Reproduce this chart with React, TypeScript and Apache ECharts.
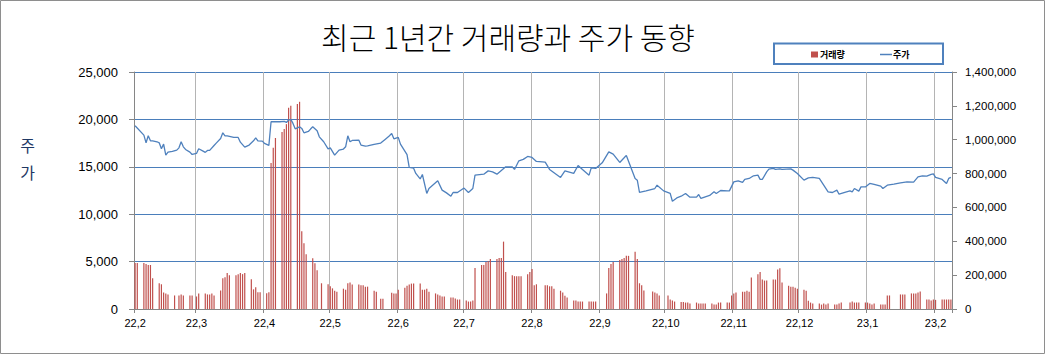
import React, { useEffect, useRef } from 'react';
import * as echarts from 'echarts';

// Calendar-day axis: 2022-02-03 .. 2023-02-10
const startYMD = [2022, 1, 3];
const endYMD = [2023, 1, 10];

const tickDates = [
  '2022-02-03', '2022-03-03', '2022-04-03', '2022-05-03', '2022-06-03', '2022-07-03', '2022-08-03',
  '2022-09-03', '2022-10-03', '2022-11-03', '2022-12-03', '2023-01-03', '2023-02-03',
];
const tickLabels = ['22,2', '22,3', '22,4', '22,5', '22,6', '22,7', '22,8', '22,9', '22,10', '22,11', '22,12', '23,1', '23,2'];

// Volume bars: day offset from 2022-02-03, value in thousands of shares
const volumeDays = [
  0, 1, 4, 5, 6, 7, 8, 11, 12, 13, 14, 15, 18, 20, 21, 22, 25, 26, 28, 29, 32, 33, 34, 35, 36, 39, 40, 41, 42, 43,
  46, 47, 48, 49, 50, 53, 54, 55, 56, 57, 60, 61, 62, 63, 64, 67, 68, 69, 70, 71, 74, 75, 76, 77, 78, 81, 82, 83, 85,
  88, 89, 90, 91, 92, 95, 96, 97, 98, 99, 102, 103, 104, 105, 106, 109, 110, 112, 113, 117, 118, 119, 120, 123, 124,
  125, 126, 127, 130, 131, 132, 133, 134, 137, 138, 139, 140, 141, 144, 145, 146, 147, 148, 151, 152, 153, 154, 155,
  158, 159, 160, 161, 162, 165, 166, 167, 168, 169, 172, 173, 174, 175, 176, 179, 180, 181, 182, 183, 187, 188, 189,
  190, 191, 194, 195, 196, 197, 200, 201, 202, 203, 204, 207, 208, 209, 210, 215, 216, 217, 218, 221, 222, 223, 224,
  225, 228, 229, 230, 231, 232, 236, 237, 238, 239, 243, 244, 245, 246, 249, 250, 251, 252, 253, 256, 257, 258, 259,
  260, 263, 264, 265, 266, 267, 270, 271, 272, 273, 274, 277, 278, 279, 280, 281, 284, 285, 286, 287, 288, 291, 292,
  293, 294, 295, 298, 299, 300, 301, 302, 305, 306, 307, 308, 309, 312, 313, 314, 315, 316, 319, 320, 321, 322, 326,
  327, 328, 329, 330, 333, 334, 335, 336, 337, 340, 341, 342, 343, 344, 349, 350, 351, 354, 355, 356, 357, 358, 361,
  362, 363, 364, 365, 368, 369, 370, 371, 372,
];
const volumeK = [
  272, 272, 272, 266, 260, 260, 182, 152, 146, 98, 92, 86, 80, 80, 86, 80, 80, 80, 74, 92, 92, 86, 86, 92, 80, 110, 182, 188, 212, 200,
  200, 206, 212, 206, 212, 176, 116, 128, 99, 99, 93, 99, 862, 952, 1010, 1045, 1063, 1092, 1189, 1201, 1211, 1224, 460, 389, 324, 300, 270, 229, 152,
  146, 134, 122, 108, 102, 120, 114, 152, 156, 144, 144, 140, 140, 132, 132, 108, 102, 60, 60, 96, 92, 92, 114, 126, 138,
  144, 150, 150, 150, 114, 114, 120, 102, 92, 86, 80, 74, 74, 68, 68, 62, 56, 56, 50, 44, 44, 50, 242,
  260, 260, 278, 284, 296, 296, 302, 302, 398, 218, 200, 194, 194, 194, 194, 206, 218, 236, 140, 146, 140, 140, 134,
  134, 120, 108, 98, 78, 68, 50, 50, 44, 44, 44, 44, 44, 44, 44, 92, 242, 266, 278, 290, 296, 302, 314,
  314, 338, 296, 152, 140, 110, 104, 98, 92, 80, 80, 56, 50, 44, 42, 42, 38, 38, 32, 38, 32, 32, 32,
  32, 32, 26, 26, 38, 38, 38, 38, 80, 92, 98, 102, 102, 108, 102, 186, 206, 218, 174, 168, 168, 174, 174,
  234, 240, 156, 138, 132, 132, 126, 120, 114, 108, 48, 38, 32, 32, 26, 32, 26, 32, 26, 26, 32, 38, 38,
  44, 38, 38, 38, 38, 38, 32, 26, 32, 26, 26, 26, 80, 80, 86, 86, 86, 92, 92, 92, 98, 104, 56,
  56, 50, 56, 54, 56, 56, 56, 56, 56,
];

// Price line: day offset from 2022-02-03, price
const priceDays = [
  0, 4, 5, 6, 7, 8, 10, 11, 12, 13, 14, 15, 17, 19, 20, 21, 22, 23, 25, 26, 28, 29, 31, 32, 33, 34, 36, 37, 39, 40,
  41, 42, 44, 45, 47, 48, 50, 52, 54, 55, 56, 58, 59, 61, 62, 64, 66, 68, 69, 70, 71, 72, 73, 75, 76, 77, 79, 80, 81,
  83, 84, 86, 88, 89, 91, 93, 95, 96, 97, 98, 99, 102, 103, 105, 106, 109, 112, 114, 116, 117, 118, 120, 121, 124,
  125, 127, 128, 130, 131, 133, 134, 138, 140, 142, 144, 145, 147, 149, 150, 152, 154, 155, 159, 161, 163, 165, 169,
  172, 173, 175, 177, 179, 181, 183, 187, 189, 194, 196, 200, 202, 204, 207, 208, 210, 213, 216, 218, 221, 223, 224,
  228, 229, 230, 233, 237, 238, 241, 244, 245, 247, 249, 251, 253, 256, 257, 258, 260, 262, 264, 265, 267, 270, 271,
  273, 275, 277, 278, 280, 282, 284, 285, 286, 288, 289, 291, 292, 294, 295, 299, 300, 302, 305, 307, 309, 312, 314,
  316, 318, 320, 321, 324, 326, 327, 328, 330, 331, 333, 335, 337, 340, 341, 343, 346, 349, 352, 355, 357, 359, 361,
  363, 364, 365, 368, 370, 371, 372,
];
const prices = [
  19330, 18340, 17530, 18270, 17740, 17740, 17640, 17530, 16900, 17390, 16230, 16550, 16620, 16760, 17000, 17640, 17110, 16830, 16550, 16300, 16410, 16900, 16650, 16520, 16730, 16730, 17250, 17500, 17990, 18590,
  18270, 18270, 18160, 18100, 18100, 17600, 17080, 17290, 17740, 18060, 17740, 17710, 17470, 17260, 19750, 19750, 19750, 19790, 19680, 19930, 20000, 19580, 19010, 19220, 19050, 18590, 18730, 18980, 19220,
  18800, 18160, 17640, 16900, 17000, 16230, 16760, 16870, 17110, 18270, 17640, 17780, 17820, 17290, 17180, 17210, 17360, 17500, 17890, 18270, 18520, 17950, 18100, 17390, 16280,
  14950, 14860, 14300, 13720, 14190, 12190, 12710, 13520, 12540, 12250, 11900, 12290, 12290, 12610, 12750, 12290, 12710, 14120, 14220, 14570, 14470, 14220, 15000,
  15000, 14720, 15630, 15780, 16090, 15990, 15570, 15490, 14720, 13880, 14570, 14300, 15140, 14720, 14120, 14890, 14830, 15420, 16580, 16340, 15460, 15950, 16200,
  13770, 13590, 12290, 12460, 12710, 13060, 12460, 12190, 11370, 11720, 11900, 12190, 11800, 11800, 12080, 11660, 11830, 11980, 12360, 12190, 12500, 12460, 12460,
  13410, 13520, 13350, 13670, 13770, 14050, 14120, 13670, 13670, 14470, 14750, 14830, 14720, 14780, 14720, 14780, 14650, 14300, 13590, 13830, 13880, 13770, 13060,
  12360, 12290, 12540, 12110, 12320, 12460, 12360, 12710, 12430, 12880, 12880, 13240, 13140, 12960, 12710, 13060, 13170, 13310, 13410, 13380, 13940, 14050, 14010,
  14190, 14260, 13880, 13670, 13240, 13770, 13880,
];

function buildDays(): string[] {
  const out: string[] = [];
  let t = Date.UTC(startYMD[0], startYMD[1], startYMD[2]);
  const end = Date.UTC(endYMD[0], endYMD[1], endYMD[2]);
  while (t <= end) {
    out.push(new Date(t).toISOString().slice(0, 10));
    t += 86400000;
  }
  return out;
}

export default function App() {
  const ref = useRef<HTMLDivElement>(null);
  useEffect(() => {
    if (!ref.current) return;
    const chart = echarts.init(ref.current, undefined, { renderer: 'svg' });
    const days = buildDays();
    const labelMap: Record<string, string> = {};
    tickDates.forEach((d, i) => (labelMap[d] = tickLabels[i]));
    const isTick = (_i: number, v: string) => labelMap[v] !== undefined;

    const volData: (number | null)[] = days.map(() => null);
    volumeDays.forEach((d, i) => (volData[d] = volumeK[i] * 1000));
    const priceData: (number | null)[] = days.map(() => null);
    priceDays.forEach((d, i) => (priceData[d] = prices[i]));

    const fmt = (v: number) => v.toLocaleString('en-US');

    chart.setOption({
      animation: false,
      backgroundColor: '#ffffff',
      textStyle: { fontFamily: 'Liberation Sans' },
      grid: { left: 134, right: 95, top: 72, bottom: 47 },
      xAxis: {
        type: 'category',
        data: days,
        boundaryGap: true,
        axisLine: { lineStyle: { color: '#868686', width: 1 } },
        axisTick: { show: true, interval: isTick, length: 4, lineStyle: { color: '#868686' } },
        axisLabel: {
          interval: isTick,
          formatter: (v: string) => labelMap[v] ?? '',
          color: '#000',
          fontSize: 11,
          margin: 8,
          fontFamily: 'Liberation Sans',
        },
        splitLine: { show: true, interval: isTick, lineStyle: { color: '#b4b4b4', width: 1 } },
      },
      yAxis: [
        {
          type: 'value',
          position: 'left',
          min: 0,
          max: 25000,
          interval: 5000,
          axisLine: { show: true, lineStyle: { color: '#868686' } },
          axisTick: { show: true, length: 5, lineStyle: { color: '#868686' } },
          axisLabel: { formatter: fmt, color: '#000', fontSize: 13, margin: 16, fontFamily: 'Liberation Sans' },
          splitLine: { show: true, lineStyle: { color: '#4a7ebb', width: 1 } },
        },
        {
          type: 'value',
          position: 'right',
          min: 0,
          max: 1400000,
          interval: 200000,
          axisLine: { show: true, lineStyle: { color: '#868686' } },
          axisTick: { show: true, length: 5, lineStyle: { color: '#868686' } },
          axisLabel: { formatter: fmt, color: '#000', fontSize: 11.5, margin: 13, fontFamily: 'Liberation Sans' },
          splitLine: { show: false },
        },
      ],
      series: [
        {
          name: '거래량',
          type: 'bar',
          yAxisIndex: 1,
          data: volData,
          barWidth: 1.2,
          itemStyle: { color: '#c0504d' },
          z: 2,
        },
        {
          name: '주가',
          type: 'line',
          yAxisIndex: 0,
          data: priceData,
          connectNulls: true,
          showSymbol: false,
          symbol: 'none',
          lineStyle: { color: '#4f81bd', width: 1.3 },
          z: 3,
        },
      ],
      graphic: [
        {
          type: 'rect',
          silent: true,
          shape: { x: 0.5, y: 0.5, width: 1044, height: 353 },
          style: { fill: 'none', stroke: '#8e8e8e', lineWidth: 1 },
        },
        {
          type: 'text',
          silent: true,
          style: {
            text: '최근 1년간 거래량과 주가 동향',
            x: 508,
            y: 36,
            textAlign: 'center',
            textVerticalAlign: 'middle',
            font: '300 30px "Noto Sans CJK KR"',
            fill: '#000',
          },
        },
        {
          type: 'text',
          silent: true,
          style: { text: '주', x: 27.5, y: 145, textAlign: 'center', textVerticalAlign: 'middle', font: '16px "Noto Sans CJK KR"', fill: '#1f3864' },
        },
        {
          type: 'text',
          silent: true,
          style: { text: '가', x: 27.5, y: 172, textAlign: 'center', textVerticalAlign: 'middle', font: '16px "Noto Sans CJK KR"', fill: '#1f3864' },
        },
        {
          type: 'rect',
          silent: true,
          shape: { x: 774, y: 43.5, width: 169, height: 20.5 },
          style: { fill: '#fff', stroke: '#4f81bd', lineWidth: 2 },
        },
        {
          type: 'rect',
          silent: true,
          shape: { x: 811, y: 51.5, width: 7, height: 6 },
          style: { fill: '#c0504d' },
        },
        {
          type: 'text',
          silent: true,
          style: { text: '거래량', x: 820, y: 54.5, textAlign: 'left', textVerticalAlign: 'middle', font: 'bold 9px "Noto Sans CJK KR"', fill: '#000' },
        },
        {
          type: 'line',
          silent: true,
          shape: { x1: 880, y1: 54.5, x2: 892, y2: 54.5 },
          style: { stroke: '#4f81bd', lineWidth: 1.5 },
        },
        {
          type: 'text',
          silent: true,
          style: { text: '주가', x: 893, y: 54.5, textAlign: 'left', textVerticalAlign: 'middle', font: 'bold 9px "Noto Sans CJK KR"', fill: '#000' },
        },
      ],
    });
    return () => chart.dispose();
  }, []);
  return <div ref={ref} style={{ position: 'fixed', left: 0, top: 0, width: 1047, height: 356 }} />;
}
